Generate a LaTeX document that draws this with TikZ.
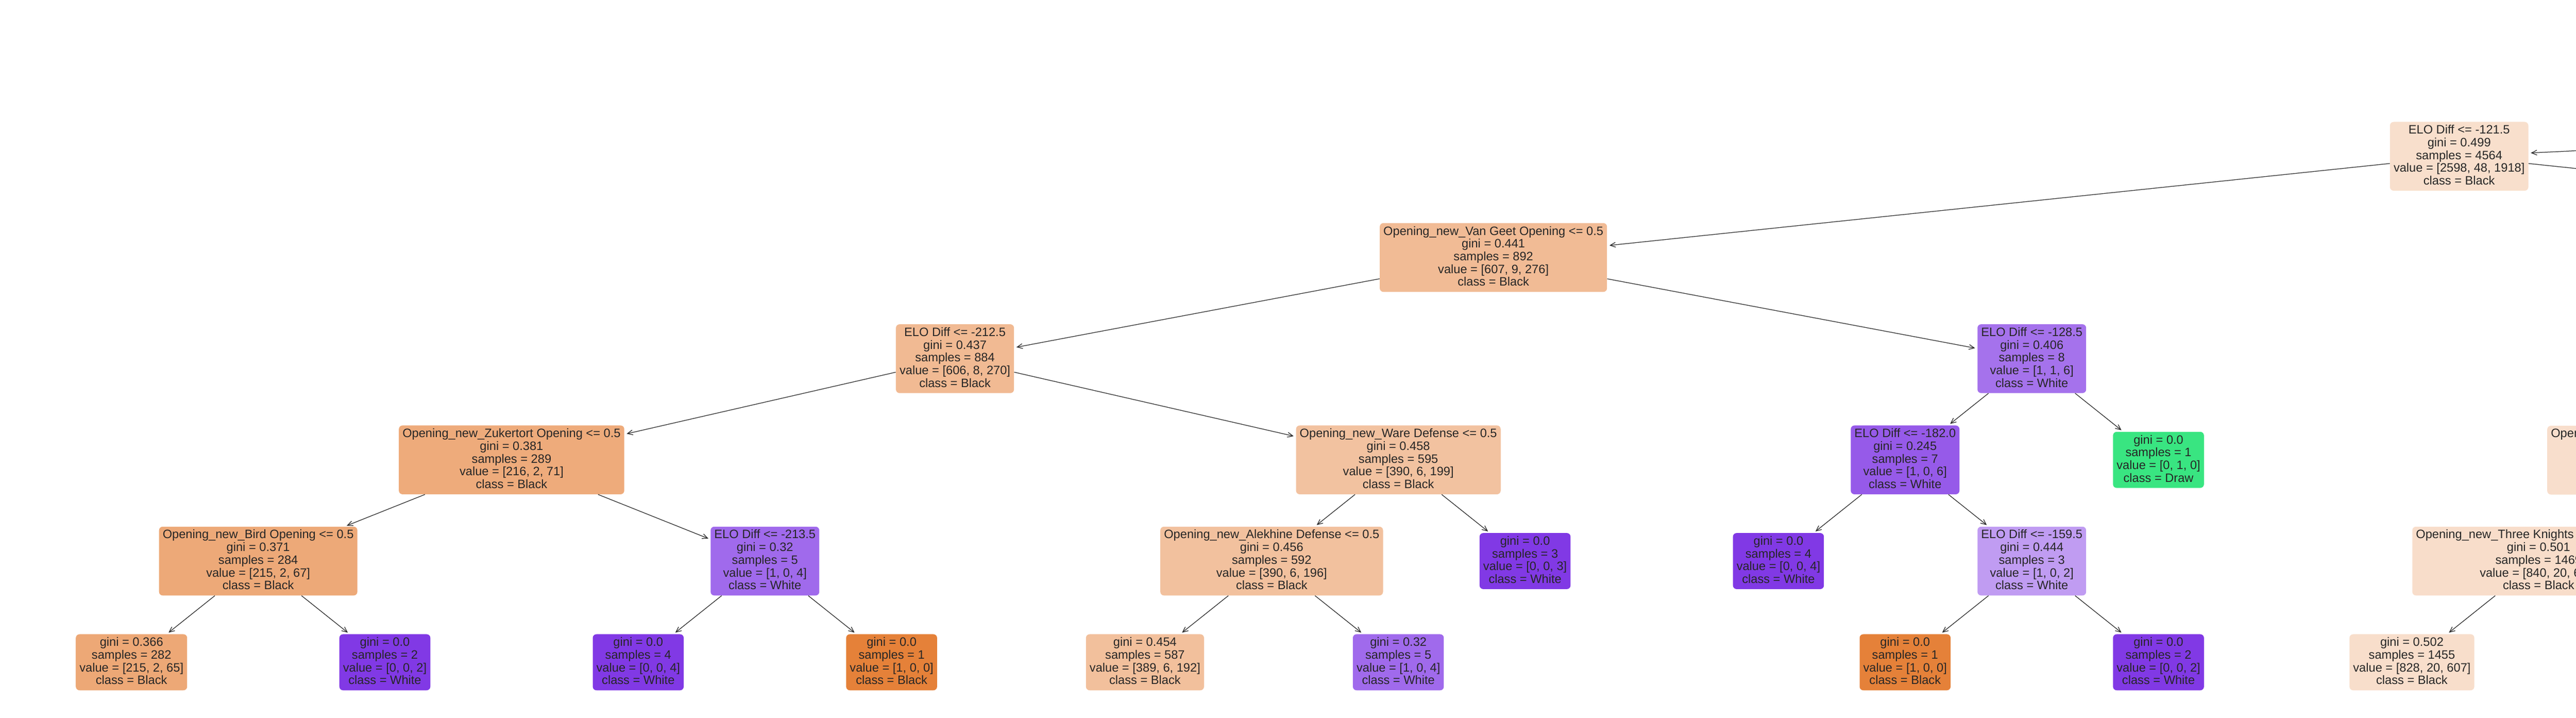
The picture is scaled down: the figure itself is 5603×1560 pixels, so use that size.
\documentclass[tikz,border=0pt]{standalone}
\usepackage{fontspec}
\setmainfont{Liberation Sans}
\usetikzlibrary{arrows.meta}
\definecolor{txt}{RGB}{38,38,38}
\definecolor{cRoot}{RGB}{248,223,204}
\definecolor{cVG}{RGB}{241,187,149}
\definecolor{cEa}{RGB}{241,186,147}
\definecolor{cEb}{RGB}{165,114,236}
\definecolor{cZuk}{RGB}{238,171,123}
\definecolor{cWare}{RGB}{242,194,160}
\definecolor{cEc}{RGB}{150,90,233}
\definecolor{cDraw}{RGB}{57,229,129}
\definecolor{cBird}{RGB}{237,169,120}
\definecolor{cEd}{RGB}{160,106,236}
\definecolor{cAlek}{RGB}{242,193,158}
\definecolor{cW}{RGB}{129,57,229}
\definecolor{cEe}{RGB}{192,156,242}
\definecolor{cTK}{RGB}{248,221,202}
\definecolor{cLa}{RGB}{237,168,118}
\definecolor{cB}{RGB}{229,129,57}
\definecolor{cLb}{RGB}{242,192,156}
\definecolor{cLc}{RGB}{248,222,203}
\definecolor{cOpe}{RGB}{248,222,204}
\newcommand\tfirst{\vrule width 0pt height 13pt depth 0pt\relax}
\newcommand\tlast{\vrule width 0pt height 0pt depth 6.4pt\relax}
\tikzset{
  tnode/.style={rectangle, rounded corners=4pt, inner xsep=3.98pt, inner ysep=0pt,
    align=center, text=txt, font=\fontsize{13.25pt}{13.85pt}\selectfont},
  edge/.style={draw=txt, line width=0.7pt, line join=miter,
    -{Straight Barb[length=5.8pt,width=5.3pt]}, shorten >=2.5pt}
}
\begin{document}
\begin{tikzpicture}[x=0.5pt, y=-0.5pt]
\useasboundingbox (0,0) rectangle (5603,1560);
% off-page neighbours
\coordinate (P0) at (9900,119.8);
\coordinate (R2) at (7450,559.7);
% level 1
\node[tnode, fill=cRoot] (root) at (5348.8,339.8) {\tfirst ELO Diff <= -121.5\\ gini = 0.499\\ samples = 4564\\ value = [2598, 48, 1918]\\ class = Black\tlast};
% level 2
\node[tnode, fill=cVG] (vg) at (3248.2,559.8) {\tfirst Opening\_new\_Van Geet Opening <= 0.5\\ gini = 0.441\\ samples = 892\\ value = [607, 9, 276]\\ class = Black\tlast};
% level 3
\node[tnode, fill=cEa] (e212) at (2077.1,779.8) {\tfirst ELO Diff <= -212.5\\ gini = 0.437\\ samples = 884\\ value = [606, 8, 270]\\ class = Black\tlast};
\node[tnode, fill=cEb] (e128) at (4419.3,779.8) {\tfirst ELO Diff <= -128.5\\ gini = 0.406\\ samples = 8\\ value = [1, 1, 6]\\ class = White\tlast};
% level 4
\node[tnode, fill=cZuk] (zuk) at (1112.7,999.8) {\tfirst Opening\_new\_Zukertort Opening <= 0.5\\ gini = 0.381\\ samples = 289\\ value = [216, 2, 71]\\ class = Black\tlast};
\node[tnode, fill=cWare] (ware) at (3041.5,999.8) {\tfirst Opening\_new\_Ware Defense <= 0.5\\ gini = 0.458\\ samples = 595\\ value = [390, 6, 199]\\ class = Black\tlast};
\node[tnode, fill=cEc] (e182) at (4143.7,999.8) {\tfirst ELO Diff <= -182.0\\ gini = 0.245\\ samples = 7\\ value = [1, 0, 6]\\ class = White\tlast};
\node[tnode, fill=cDraw] (draw) at (4694.8,999.8) {\tfirst gini = 0.0\\ samples = 1\\ value = [0, 1, 0]\\ class = Draw\tlast};
\node[tnode, fill=cOpe, anchor=north west, minimum width=300pt, minimum height=74.8pt] (ope) at (5540,925.2) {};
\node[tnode, anchor=base west, inner sep=0pt] (opetext) at (5548,951.2) {Opening};
% level 5
\node[tnode, fill=cBird] (bird) at (561.6,1219.8) {\tfirst Opening\_new\_Bird Opening <= 0.5\\ gini = 0.371\\ samples = 284\\ value = [215, 2, 67]\\ class = Black\tlast};
\node[tnode, fill=cEd] (e2135) at (1663.8,1219.8) {\tfirst ELO Diff <= -213.5\\ gini = 0.32\\ samples = 5\\ value = [1, 0, 4]\\ class = White\tlast};
\node[tnode, fill=cAlek] (alek) at (2766.0,1219.8) {\tfirst Opening\_new\_Alekhine Defense <= 0.5\\ gini = 0.456\\ samples = 592\\ value = [390, 6, 196]\\ class = Black\tlast};
\node[tnode, fill=cW] (w3) at (3317.1,1219.8) {\tfirst gini = 0.0\\ samples = 3\\ value = [0, 0, 3]\\ class = White\tlast};
\node[tnode, fill=cW] (w4) at (3868.2,1219.8) {\tfirst gini = 0.0\\ samples = 4\\ value = [0, 0, 4]\\ class = White\tlast};
\node[tnode, fill=cEe] (e1595) at (4419.3,1219.8) {\tfirst ELO Diff <= -159.5\\ gini = 0.444\\ samples = 3\\ value = [1, 0, 2]\\ class = White\tlast};
\node[tnode, fill=cTK] (tk) at (5521.5,1219.8) {\tfirst Opening\_new\_Three Knights Opening <= 0.5\\ gini = 0.501\\ samples = 1469\\ value = [840, 20, 609]\\ class = Black\tlast};
% level 6
\node[tnode, fill=cLa] (l0) at (286.0,1439.8) {\tfirst gini = 0.366\\ samples = 282\\ value = [215, 2, 65]\\ class = Black\tlast};
\node[tnode, fill=cW] (l1) at (837.1,1439.8) {\tfirst gini = 0.0\\ samples = 2\\ value = [0, 0, 2]\\ class = White\tlast};
\node[tnode, fill=cW] (l2) at (1388.2,1439.8) {\tfirst gini = 0.0\\ samples = 4\\ value = [0, 0, 4]\\ class = White\tlast};
\node[tnode, fill=cB] (l3) at (1939.3,1439.8) {\tfirst gini = 0.0\\ samples = 1\\ value = [1, 0, 0]\\ class = Black\tlast};
\node[tnode, fill=cLb] (l4) at (2490.4,1439.8) {\tfirst gini = 0.454\\ samples = 587\\ value = [389, 6, 192]\\ class = Black\tlast};
\node[tnode, fill=cEd] (l5) at (3041.5,1439.8) {\tfirst gini = 0.32\\ samples = 5\\ value = [1, 0, 4]\\ class = White\tlast};
\node[tnode, fill=cB] (l7) at (4143.7,1439.8) {\tfirst gini = 0.0\\ samples = 1\\ value = [1, 0, 0]\\ class = Black\tlast};
\node[tnode, fill=cW] (l8) at (4694.8,1439.8) {\tfirst gini = 0.0\\ samples = 2\\ value = [0, 0, 2]\\ class = White\tlast};
\node[tnode, fill=cLc] (l9) at (5246.0,1439.8) {\tfirst gini = 0.502\\ samples = 1455\\ value = [828, 20, 607]\\ class = Black\tlast};
% edges
\draw[edge] (P0) -- (root);
\draw[edge] (root) -- (R2);
\draw[edge] (root) -- (vg);
\draw[edge] (vg) -- (e212);
\draw[edge] (vg) -- (e128);
\draw[edge] (e212) -- (zuk);
\draw[edge] (e212) -- (ware);
\draw[edge] (zuk) -- (bird);
\draw[edge] (zuk) -- (e2135);
\draw[edge] (bird) -- (l0);
\draw[edge] (bird) -- (l1);
\draw[edge] (e2135) -- (l2);
\draw[edge] (e2135) -- (l3);
\draw[edge] (ware) -- (alek);
\draw[edge] (ware) -- (w3);
\draw[edge] (alek) -- (l4);
\draw[edge] (alek) -- (l5);
\draw[edge] (e128) -- (e182);
\draw[edge] (e128) -- (draw);
\draw[edge] (e182) -- (w4);
\draw[edge] (e182) -- (e1595);
\draw[edge] (e1595) -- (l7);
\draw[edge] (e1595) -- (l8);
\draw[edge] (tk) -- (l9);
\end{tikzpicture}
\end{document}
